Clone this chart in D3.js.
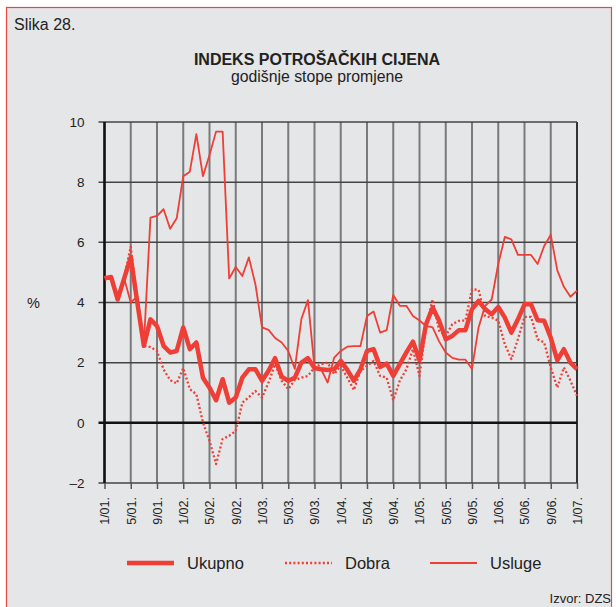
<!DOCTYPE html>
<html>
<head>
<meta charset="utf-8">
<script src="https://cdn.jsdelivr.net/npm/d3@7"></script>
<style>
  body { margin: 0; background: #fff; }
  svg { font-family: "Liberation Sans", Arial, sans-serif; display: block; }
</style>
</head>
<body>
<div id="chart"></div>
<script>
// Monthly annual rates, 1/01 .. 1/07 (73 months)
const ukupno = [4.8, 4.85, 4.1, 4.8, 5.5, 4.0, 2.56, 3.44, 3.22, 2.56, 2.34, 2.39,
  3.17, 2.45, 2.67, 1.5, 1.17, 0.75, 1.45, 0.67, 0.84, 1.5, 1.78, 1.78,
  1.4, 1.73, 2.15, 1.53, 1.4, 1.5, 2.0, 2.15, 1.82, 1.78, 1.76, 1.78,
  2.06, 1.76, 1.4, 1.78, 2.39, 2.45, 1.86, 1.97, 1.56, 1.95, 2.34, 2.7,
  2.08, 3.28, 3.83, 3.39, 2.78, 2.89, 3.08, 3.08, 3.78, 4.05, 3.78, 3.61,
  3.85, 3.5, 3.0, 3.44, 3.94, 3.94, 3.41, 3.39, 2.83, 2.08, 2.45, 2.0,
  1.78]
const dobra = [4.85, 4.85, 4.1, 4.85, 5.85, 4.1, 2.56, 2.52, 2.39, 1.78, 1.42, 1.31,
  1.82, 1.12, 0.95, 0.01, -0.6, -1.37, -0.54, -0.43, -0.27, 0.67, 0.85, 1.06,
  0.84, 1.34, 1.95, 1.4, 1.12, 1.42, 1.5, 1.56, 1.84, 1.95, 2.0, 1.62,
  1.89, 1.5, 1.09, 1.73, 1.89, 2.06, 1.56, 1.5, 0.75, 1.4, 1.78, 2.45,
  1.56, 3.2, 4.1, 3.06, 2.89, 3.28, 3.39, 3.4, 4.44, 4.42, 3.55, 3.5,
  3.4, 2.61, 2.12, 2.78, 3.52, 3.52, 2.78, 2.67, 1.84, 1.17, 1.84, 1.4,
  0.9]
const usluge = [4.85, 4.85, 4.1, 4.8, 4.0, 4.2, 2.6, 6.82, 6.88, 7.1, 6.45, 6.8,
  8.2, 8.35, 9.6, 8.2, 8.9, 9.68, 9.68, 4.8, 5.18, 4.88, 5.5, 4.6,
  3.17, 3.09, 2.82, 2.67, 2.39, 1.79, 3.45, 4.08, 1.84, 1.79, 1.34, 2.17,
  2.39, 2.53, 2.55, 2.55, 3.55, 3.7, 3.0, 3.08, 4.25, 3.89, 3.89, 3.55,
  3.4, 3.22, 3.17, 2.7, 2.34, 2.16, 2.1, 2.1, 1.79, 3.17, 3.89, 4.1,
  5.28, 6.18, 6.1, 5.58, 5.58, 5.58, 5.28, 5.88, 6.25, 5.07, 4.52, 4.19,
  4.39]
const tickLabels = ['1/01.', '5/01.', '9/01.', '1/02.', '5/02.', '9/02.', '1/03.',
  '5/03.', '9/03.', '1/04.', '5/04.', '9/04.', '1/05.', '5/05.', '9/05.',
  '1/06.', '5/06.', '9/06.', '1/07.']
const yTicks = [-2, 0, 2, 4, 6, 8, 10]
const seriesNames = ['Ukupno', 'Dobra', 'Usluge']

const W = 616, H = 607
const RED = '#ef3e36'
const X0 = 104.5, X1 = 577, Y0 = 483, Y1 = 122

const x = d3.scaleLinear([0, ukupno.length - 1], [X0, X1])
const y = d3.scaleLinear([-2, 10], [Y0, Y1])

const svg = d3.select('#chart').append('svg').attr('width', W).attr('height', H)

// background + red frame
svg.append('rect').attr('x', 6.5).attr('y', 7.5).attr('width', 605).attr('height', 610)
  .attr('fill', '#e5e6e8').attr('stroke', '#e8463f').attr('stroke-width', 1.2)

svg.append('text').attr('x', 14).attr('y', 30).attr('font-size', 16).attr('fill', '#222').text('Slika 28.')
svg.append('text').attr('x', 317).attr('y', 65).attr('text-anchor', 'middle')
  .attr('font-size', 16).attr('font-weight', 'bold').attr('fill', '#222')
  .text('INDEKS POTROŠAČKIH CIJENA')
svg.append('text').attr('x', 317).attr('y', 82).attr('text-anchor', 'middle')
  .attr('font-size', 15.8).attr('fill', '#222').text('godišnje stope promjene')

// grid
const tickIdx = tickLabels.map((_, i) => i * 4)
svg.append('g').selectAll('line').data(tickIdx).join('line')
  .attr('x1', d => x(d)).attr('x2', d => x(d)).attr('y1', Y1).attr('y2', Y0)
  .attr('stroke', d => d === 72 ? '#333' : '#7a7a7a').attr('stroke-width', 2)
svg.append('g').selectAll('line').data(yTicks).join('line')
  .attr('x1', X0 - 6).attr('x2', X1).attr('y1', d => y(d)).attr('y2', d => y(d))
  .attr('stroke', d => d === 0 ? '#111' : '#444')
  .attr('stroke-width', d => d === 0 ? 2.5 : 1.5)
svg.append('line').attr('x1', X0).attr('x2', X0).attr('y1', Y1).attr('y2', Y0)
  .attr('stroke', '#111').attr('stroke-width', 2.5)

// y axis
const yAx = svg.append('g').attr('transform', `translate(${X0},0)`)
  .call(d3.axisLeft(y).tickValues(yTicks).tickSize(0).tickPadding(20)
    .tickFormat(d => d < 0 ? '–' + (-d) : d))
yAx.select('.domain').remove()
yAx.selectAll('text').attr('font-size', 13.5).attr('fill', '#222')
  .attr('font-family', '"Liberation Sans", Arial, sans-serif')
svg.append('text').attr('x', 27).attr('y', 308).attr('font-size', 14.5).attr('fill', '#222').text('%')

// x axis
const xAx = svg.append('g').attr('transform', `translate(0,${Y0})`)
  .call(d3.axisBottom(x).tickValues(tickIdx).tickSize(6)
    .tickFormat((d, i) => tickLabels[i]))
xAx.select('.domain').remove()
xAx.selectAll('line').attr('stroke', '#555').attr('stroke-width', 1.5)
xAx.selectAll('text').attr('font-size', 12.5).attr('fill', '#222')
  .attr('font-family', '"Liberation Sans", Arial, sans-serif')
  .attr('text-anchor', 'end').attr('transform', 'rotate(-90)')
  .attr('x', -14).attr('y', 0).attr('dy', '0.35em')

// series
const line = d3.line().x((d, i) => x(i)).y(d => y(d)).curve(d3.curveLinear)
const styles = [
  { data: ukupno, width: 4.5, dash: null },
  { data: dobra, width: 2.3, dash: '2,2.2' },
  { data: usluge, width: 1.8, dash: null }
]
svg.append('g').selectAll('path').data(styles).join('path')
  .attr('d', d => line(d.data)).attr('fill', 'none').attr('stroke', RED)
  .attr('stroke-width', d => d.width).attr('stroke-dasharray', d => d.dash)
  .attr('stroke-linejoin', 'round')

// legend
const legX = [127, 285, 430]
const lg = svg.append('g').selectAll('g').data(styles).join('g')
  .attr('transform', (d, i) => `translate(${legX[i]},563)`)
lg.append('line').attr('x1', 0).attr('x2', 47).attr('stroke', RED)
  .attr('stroke-width', d => d.width).attr('stroke-dasharray', d => d.dash)
lg.append('text').attr('x', 60).attr('y', 6).attr('font-size', 16.5).attr('fill', '#222')
  .text((d, i) => seriesNames[i])

svg.append('text').attr('x', 611).attr('y', 603).attr('text-anchor', 'end')
  .attr('font-size', 13).attr('fill', '#222').text('Izvor: DZS')
</script>
</body>
</html>
